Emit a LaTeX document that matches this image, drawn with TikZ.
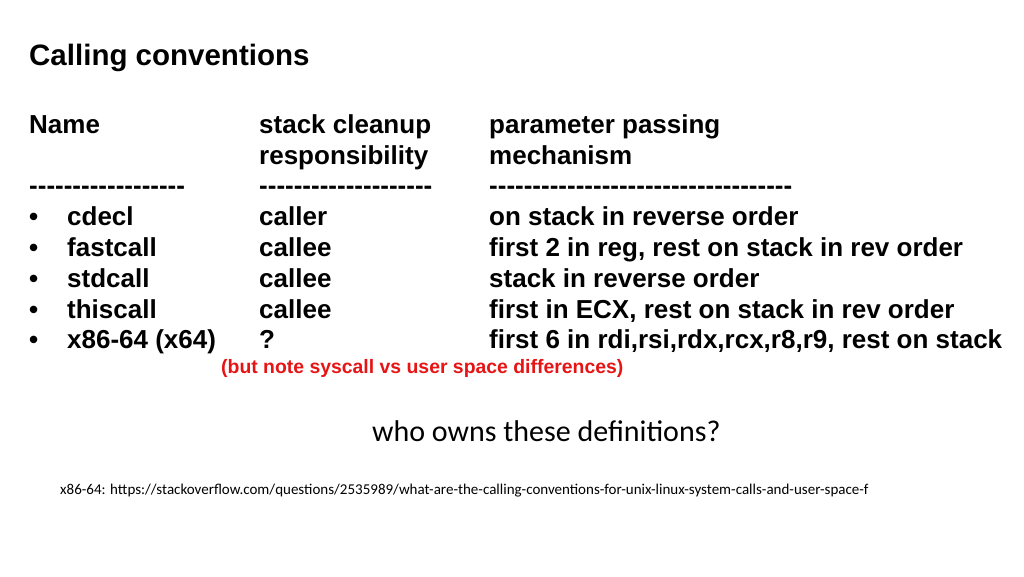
\documentclass[tikz,border=0pt]{standalone}
\usepackage{fontspec}
\setmainfont{Liberation Sans}
\newfontfamily\carlito{Carlito}
\newcommand\dashrow[1]{\foreach\k in {1,...,#1}{-}}
\begin{document}
\begin{tikzpicture}[x=1pt,y=-1pt,
  txt/.style={anchor=base west,inner sep=0pt,font=\fontsize{26}{30}\selectfont\bfseries}]
\useasboundingbox (0,0) rectangle (1024,576);
\node[txt,font=\fontsize{29.5}{34}\selectfont\bfseries] (title) at (29,65) {Calling conventions};
% header
\node[txt] (hname) at (29,133) {Name};
\node[txt] (hstack) at (259,133) {stack cleanup};
\node[txt] (hstack2) at (259,164) {responsibility};
\node[txt] (hparam) at (489,133) {parameter passing};
\node[txt] (hparam2) at (489,164) {mechanism};
\node[txt] (d1) at (29,194) {\dashrow{18}};
\node[txt] (d2) at (259,194) {\dashrow{20}};
\node[txt] (d3) at (489,194) {\dashrow{35}};
% rows
\foreach \y/\nm/\cl/\pp [count=\i] in {
  225/cdecl/caller/on stack in reverse order,
  256/fastcall/callee/{first 2 in reg, rest on stack in rev order},
  287/stdcall/callee/stack in reverse order,
  318/thiscall/callee/{first in ECX, rest on stack in rev order},
  348/x86-64 (x64)/?/{first 6 in rdi,rsi,rdx,rcx,r8,r9, rest on stack}} {
  \node[txt] (b\i) at (29,\y) {\textbullet};
  \node[txt] (n\i) at (67,\y) {\nm};
  \node[txt] (c\i) at (259,\y) {\cl};
  \node[txt] (p\i) at (489,\y) {\pp};
}
\node[txt,font=\fontsize{19.4}{22}\selectfont\bfseries,text={rgb,255:red,230;green,20;blue,20}] (note) at (221,373) {(but note syscall vs user space differences)};
\node[txt,font=\carlito\fontsize{30}{34}\selectfont] (who) at (372,441) {who owns these definitions?};
\node[txt,font=\carlito\fontsize{15}{17}\selectfont] (url) at (60,494) {x86-64: https://stackoverflow.com/questions/2535989/what-are-the-calling-conventions-for-unix-linux-system-calls-and-user-space-f};
\end{tikzpicture}
\end{document}
